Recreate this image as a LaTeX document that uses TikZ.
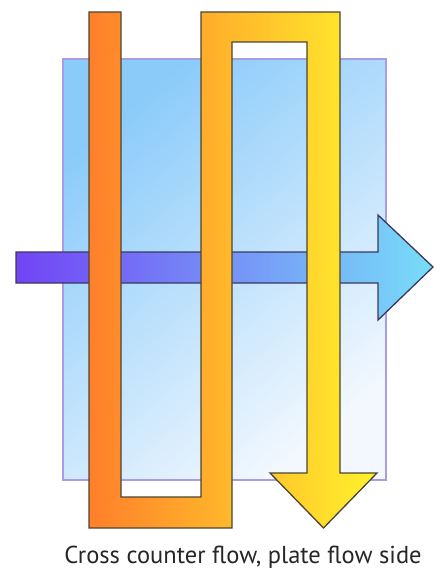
\documentclass[tikz,border=0pt]{standalone}
\usepackage{fontspec}
\setsansfont{PT Sans}
\definecolor{plateblue}{HTML}{8ACBFA}
\definecolor{platewhite}{HTML}{F2F8FE}
\definecolor{plateedge}{HTML}{A99CE6}
\definecolor{airpurple}{HTML}{7244F5}
\definecolor{airmid}{HTML}{7A92F6}
\definecolor{aircyan}{HTML}{78DDF8}
\definecolor{hotorange}{HTML}{FF7F2A}
\definecolor{hotmid}{HTML}{FFBE2A}
\definecolor{hotyellow}{HTML}{FFF22C}
\definecolor{edgegray}{HTML}{4A4636}
\begin{document}
\begin{tikzpicture}[x=1pt,y=-1pt,line width=1.3pt,line join=miter]
  \useasboundingbox (0,0) rectangle (439,577);
  \coordinate (P1) at (63,59); \coordinate (P2) at (386,480);
  \shade[top color=plateblue, bottom color=platewhite, shading angle=40] (P1) rectangle (P2);
  \draw[plateedge] (P1) rectangle (P2);
  \shade[draw=edgegray!80!blue, left color=airpurple, middle color=airmid, right color=aircyan]
    (16,252) -- (378,252) -- (378,215) -- (433,267) -- (378,320) -- (378,283) -- (16,283) -- cycle;
  \shade[draw=edgegray, left color=hotorange, middle color=hotmid, right color=hotyellow]
    (89,12) -- (121,12) -- (121,497) -- (201,497) -- (201,12) -- (340,12) -- (340,473)
    -- (377,473) -- (323.5,528) -- (270,473) -- (307,473) -- (307,42) -- (232,42)
    -- (232,528) -- (89,528) -- cycle;
  \node[font=\sffamily\fontsize{24.5}{29}\selectfont, text=black!85, anchor=base, inner sep=0pt] (caption) at (243,563) {Cross counter flow, plate flow side};
\end{tikzpicture}
\end{document}
